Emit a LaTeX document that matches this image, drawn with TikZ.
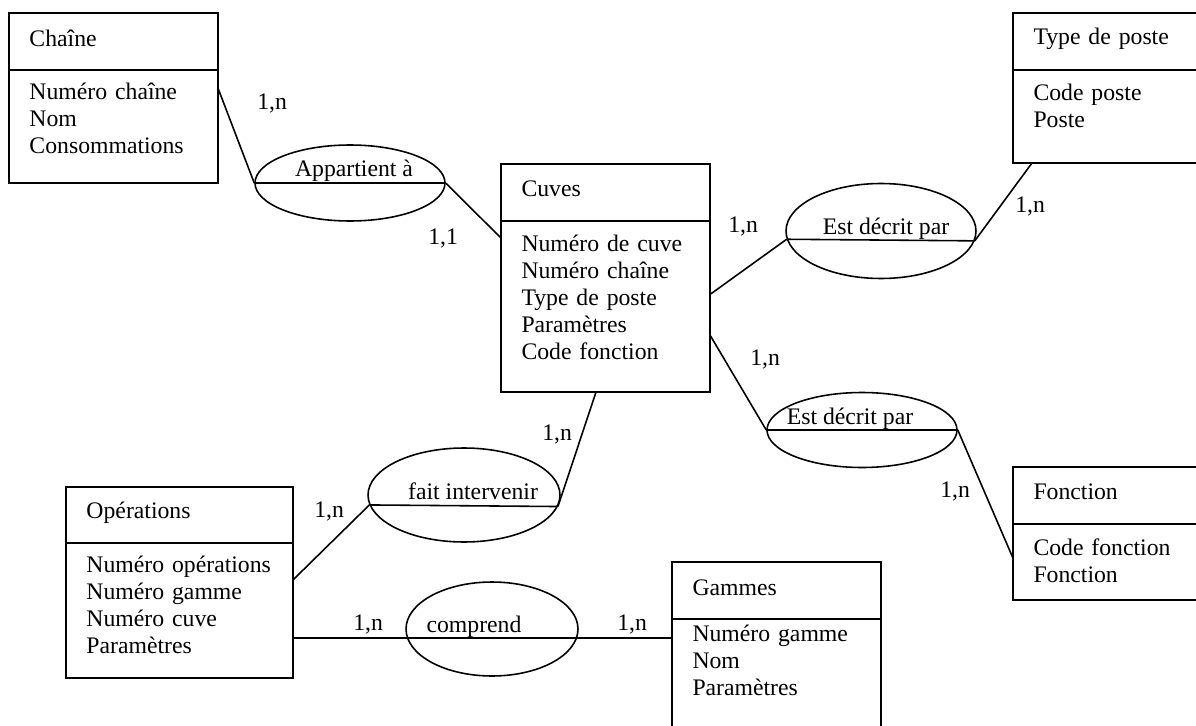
\documentclass[tikz,border=0pt]{standalone}
\usepackage{fontspec}
\setmainfont{Liberation Serif}
\usepackage{tikz}
\usetikzlibrary{shapes.geometric,calc}

\begin{document}
\begin{tikzpicture}[x=0.02cm, y=-0.02cm,
    every node/.style={font=\fontsize{13.5pt}{15.3pt}\selectfont},
    ent/.style={rectangle, draw, line width=0.9pt, anchor=north west,
                outer sep=0pt, inner xsep=0.41cm, inner ysep=0pt,
                align=left, text width=3.36cm},
    assoc/.style={ellipse, draw, line width=0.9pt, inner sep=0pt},
    nom/.style={anchor=base, inner sep=0pt},
    card/.style={anchor=base west, inner sep=0pt},
    lien/.style={line width=0.9pt},
  ]
  \clip (0,0) rectangle (1196,726);

  % ===== Entites =====
  \node[ent, text height=0.68cm, text depth=0.46cm] (chaine) at (9,13) {Chaîne};
  \node[ent, text height=0.60cm, text depth=1.66cm] (chaine-a) at (chaine.south west)
        {Numéro chaîne\\Nom\\Consommations};

  \node[ent, text height=0.66cm, text depth=0.48cm] (cuves) at (501,164) {Cuves};
  \node[ent, text height=0.62cm, text depth=2.80cm] (cuves-a) at (cuves.south west)
        {Numéro de cuve\\Numéro chaîne\\Type de poste\\Paramètres\\Code fonction};

  \node[ent, text width=3.18cm, text height=0.64cm, text depth=0.50cm] (poste) at (1013,13) {Type de poste};
  \node[ent, text width=3.18cm, text height=0.62cm, text depth=1.24cm] (poste-a) at (poste.south west)
        {Code poste\\Poste};

  \node[ent, text width=3.18cm, text height=0.66cm, text depth=0.48cm] (fonction) at (1013,467) {Fonction};
  \node[ent, text width=3.18cm, text height=0.64cm, text depth=0.88cm] (fonction-a) at (fonction.south west)
        {Code fonction\\Fonction};

  \node[ent, text width=3.72cm, text height=0.64cm, text depth=0.48cm] (operations) at (66,487) {Opérations};
  \node[ent, text width=3.72cm, text height=0.60cm, text depth=2.10cm] (operations-a) at (operations.south west)
        {Numéro opérations\\Numéro gamme\\Numéro cuve\\Paramètres};

  \node[ent, text height=0.66cm, text depth=0.48cm] (gammes) at (672,562) {Gammes};
  \node[ent, text height=0.46cm, text depth=3.14cm] (gammes-a) at (gammes.south west)
        {Numéro gamme\\Nom\\Paramètres};

  % ===== Associations =====
  \node[assoc, minimum width=3.8cm, minimum height=1.52cm] (appartient) at (350,183) {};
  \node[nom] (appartient-t) at (354,177) {Appartient à};
  \draw[lien] (appartient.west) -- (appartient.east);

  \node[assoc, minimum width=3.8cm, minimum height=1.9cm] (decrit1) at (881,231) {};
  \node[nom] (decrit1-t) at (886,235) {Est décrit par};
  \draw[lien] (decrit1.185.5) -- (decrit1.354.5);

  \node[assoc, minimum width=3.8cm, minimum height=1.5cm] (decrit2) at (862,430) {};
  \node[nom] (decrit2-t) at (850,424) {Est décrit par};
  \draw[lien] (decrit2.west) -- (decrit2.east);

  \node[assoc, minimum width=3.84cm, minimum height=1.88cm] (fait) at (464,495) {};
  \node[nom] (fait-t) at (473,499) {fait intervenir};
  \draw[lien] (fait.186.1) -- (fait.353.9);

  \node[assoc, minimum width=3.44cm, minimum height=1.88cm] (comprend) at (492,629) {};
  \node[nom] (comprend-t) at (474,632) {comprend};

  % ===== Liens =====
  \draw[lien] ($(chaine-a.north east)!0.16!(chaine-a.south east)$) -- (appartient.west);
  \draw[lien] (appartient.east) -- ($(cuves-a.north west)!0.10!(cuves-a.south west)$);
  \draw[lien] ($(cuves-a.north east)!0.43!(cuves-a.south east)$) -- (decrit1.185.5);
  \draw[lien] (decrit1.354.5) -- ($(poste-a.south west)!0.095!(poste-a.south east)$);
  \draw[lien] ($(cuves-a.north east)!0.667!(cuves-a.south east)$) -- (decrit2.west);
  \draw[lien] (decrit2.east) -- ($(fonction-a.north west)!0.45!(fonction-a.south west)$);
  \draw[lien] ($(cuves-a.south west)!0.455!(cuves-a.south east)$) -- (fait.353.9);
  \draw[lien] (fait.186.1) -- ($(operations-a.north east)!0.274!(operations-a.south east)$);
  \draw[lien] ($(operations-a.north east)!0.704!(operations-a.south east)$) coordinate (op-c)
        -- (op-c -| gammes-a.west);

  % cardinalites
  \node[card] (c1) at (257,110) {1,n};
  \node[card] (c2) at (428,244) {1,1};
  \node[card] (c3) at (728,233) {1,n};
  \node[card] (c4) at (1015,213) {1,n};
  \node[card] (c5) at (750,365) {1,n};
  \node[card] (c6) at (940,497) {1,n};
  \node[card] (c7) at (542,440) {1,n};
  \node[card] (c8) at (314,517) {1,n};
  \node[card] (c9) at (353,630) {1,n};
  \node[card] (c10) at (617,630) {1,n};

\end{tikzpicture}
\end{document}
